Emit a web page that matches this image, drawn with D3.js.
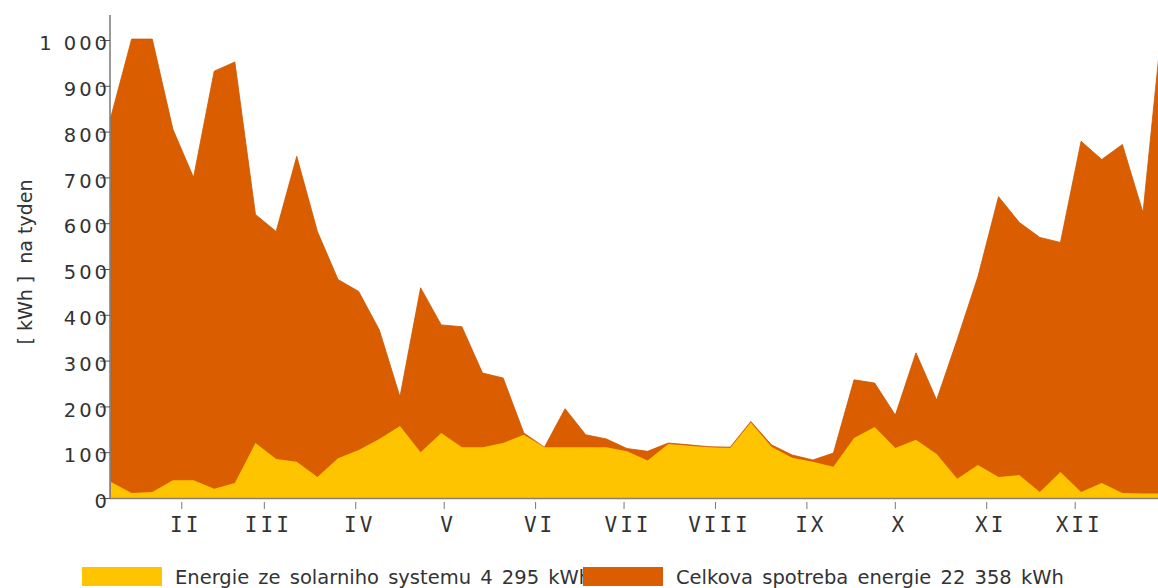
<!DOCTYPE html>
<html>
<head>
<meta charset="utf-8">
<script src="https://cdn.jsdelivr.net/npm/d3@7"></script>
<style>
  html, body { margin: 0; padding: 0; background: #fff; }
  svg { display: block; }
</style>
</head>
<body>
<svg id="chart" width="1158" height="588"></svg>
<script>
// Weekly energy balance over one year (52 weeks)
const weeks = d3.range(52);

// Total weekly consumption [kWh]
const consumption = [833, 1002, 1002, 805, 700, 932, 952, 619, 582, 746, 582, 477, 451, 367, 221, 459, 378, 374, 273, 262,
  142, 111, 195, 138, 129, 108, 102, 120, 116, 112, 111, 167, 116, 94, 83, 98, 258, 251, 181, 317,
  214, 346, 483, 658, 602, 569, 558, 779, 739, 772, 623, 1070];

// Weekly energy delivered by the solar system [kWh]
const solar = [35, 11, 13, 39, 39, 20, 33, 120, 85, 79, 46, 87, 105, 129, 157, 100, 142, 111, 111, 120,
  138, 111, 111, 111, 111, 102, 82, 118, 114, 111, 109, 165, 112, 88, 79, 68, 131, 155, 109, 127,
  96, 42, 72, 46, 50, 13, 57, 13, 33, 11, 10, 10];

// Month boundaries (day of year) and their roman labels
const monthStartDay = [31, 59, 90, 120, 151, 181, 212, 243, 273, 304, 334];
const monthLabels = ["II", "III", "IV", "V", "VI", "VII", "VIII", "IX", "X", "XI", "XII"];

const yTicks = [0, 100, 200, 300, 400, 500, 600, 700, 800, 900, 1000];

const legendItems = [
  { label: "Energie ze solarniho systemu 4 295 kWh", color: "#FEC400" },
  { label: "Celkova spotreba energie 22 358 kWh", color: "#DA5E00" }
];

const svg = d3.select("#chart");

const x = d3.scaleLinear().domain([0, 51]).range([111, 111 + 51 * 20.64]);
const y = d3.scaleLinear().domain([0, 1000]).range([498, 40]);

svg.append("clipPath").attr("id", "plot-clip")
  .append("rect").attr("x", 110).attr("y", 0).attr("width", 1158 - 110).attr("height", 498);

const plot = svg.append("g").attr("clip-path", "url(#plot-clip)");

const area = (vals) => d3.area()
  .x(i => x(i))
  .y0(y(0))
  .y1(i => y(vals[i]))(weeks);

plot.append("path")
  .attr("d", area(consumption))
  .attr("fill", "#DA5E00")
  .attr("stroke", "#C95700")
  .attr("stroke-width", 0.8);

plot.append("path")
  .attr("d", area(solar))
  .attr("fill", "#FEC400");

// Y axis
const fmt = d3.formatLocale({ decimal: ",", thousands: " ", grouping: [3], currency: ["", ""] }).format(",d");

const yAxisG = svg.append("g")
  .attr("transform", "translate(110,0)")
  .call(d3.axisLeft(y).tickValues(yTicks).tickFormat(fmt).tickSize(10).tickPadding(1));
yAxisG.select(".domain").remove();
yAxisG.selectAll(".tick line").attr("stroke", "#555");
yAxisG.selectAll(".tick text")
  .attr("font-family", "DejaVu Sans")
  .attr("font-size", 19.5)
  .attr("letter-spacing", "3px")
  .attr("fill", "#333")
  .attr("x", 0)
  .attr("dy", "0.5em");

svg.append("line")
  .attr("x1", 110).attr("x2", 110)
  .attr("y1", 15).attr("y2", 498)
  .attr("stroke", "#555").attr("stroke-width", 1.2);

// X axis
svg.append("line")
  .attr("x1", 110).attr("x2", 1158)
  .attr("y1", 498.5).attr("y2", 498.5)
  .attr("stroke", "#8a8070").attr("stroke-width", 1.5);

const monthPos = monthStartDay.map(d => d / 7 - 1);
const xAxisG = svg.append("g");
xAxisG.selectAll("line.mt")
  .data(monthPos)
  .join("line")
  .attr("class", "mt")
  .attr("x1", d => x(d)).attr("x2", d => x(d))
  .attr("y1", 502).attr("y2", 509)
  .attr("stroke", "#777").attr("stroke-width", 1);

xAxisG.selectAll("text.ml")
  .data(monthPos)
  .join("text")
  .attr("class", "ml")
  .attr("x", d => x(d) + 4)
  .attr("y", 532)
  .attr("text-anchor", "middle")
  .attr("font-family", "DejaVu Sans Mono")
  .attr("font-size", 21)
  .attr("letter-spacing", "3px")
  .attr("fill", "#333")
  .text((d, i) => monthLabels[i]);

// Y axis title
svg.append("text")
  .attr("transform", "translate(32,262) rotate(-90)")
  .attr("text-anchor", "middle")
  .attr("font-family", "DejaVu Sans")
  .attr("font-size", 19)
  .attr("fill", "#333")
  .attr("xml:space", "preserve")
  .style("white-space", "pre")
  .text("[ kWh ]  na tyden");

// Legend
const legend = svg.append("g");
const legendX = [82, 583];
legendItems.forEach((item, i) => {
  legend.append("text")
    .attr("x", legendX[i] + 93)
    .attr("y", 584)
    .attr("font-family", "DejaVu Sans")
    .attr("font-size", 19.5)
    .attr("word-spacing", "3px")
    .attr("fill", "#333")
    .text(item.label);
});
legendItems.forEach((item, i) => {
  legend.append("rect")
    .attr("x", legendX[i])
    .attr("y", 567)
    .attr("width", 80)
    .attr("height", 19)
    .attr("fill", item.color);
});
</script>
</body>
</html>
